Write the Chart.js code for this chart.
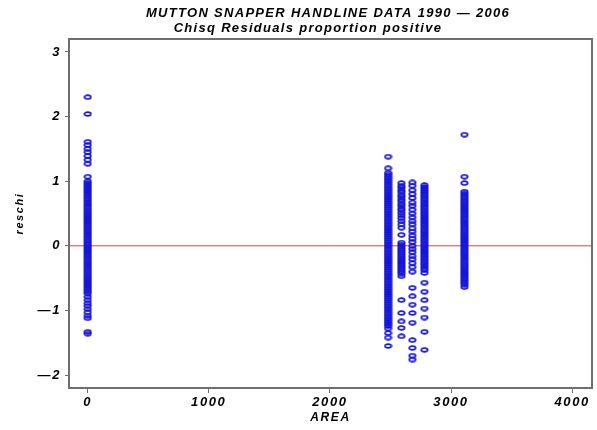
<!DOCTYPE html>
<html>
<head>
<meta charset="utf-8">
<script src="https://cdn.jsdelivr.net/npm/chart.js@4.4.0/dist/chart.umd.min.js"></script>
<style>
  html, body { margin: 0; padding: 0; background: #ffffff; }
  #wrap { width: 597px; height: 430px; position: relative; }
</style>
</head>
<body>
<div id="wrap"><canvas id="c" width="597" height="430"></canvas></div>
<script>
// ---- Data ----
const titleLines = ['MUTTON SNAPPER HANDLINE DATA 1990 \u2014 2006', 'Chisq Residuals proportion positive'];
const xTitle = 'AREA';
const yTitle = 'reschi';

const xTicks = [0, 1000, 2000, 3000, 4000];
const xTickLabels = ['0', '1000', '2000', '3000', '4000'];
const yTicks = [-2, -1, 0, 1, 2, 3];
const yTickLabels = ['\u20142', '\u20141', '0', '1', '2', '3'];
const xRange = [-154, 4164];
const yRange = [-2.2, 3.2];
const refLineY = 0;

// AREA codes (x positions of the point columns)
const areas = [0, 2480, 2590, 2680, 2780, 3110];

// Residuals per area
const resid0 = [2.30, 2.04, 1.61, 1.56, 1.50, 1.45, 1.39, 1.33, 1.27, 1.07, 1.00,
  0.97, 0.94, 0.91, 0.88, 0.85, 0.82, 0.79, 0.76, 0.73, 0.70, 0.67, 0.64, 0.61, 0.58,
  0.55, 0.52, 0.49, 0.46, 0.43, 0.40, 0.37, 0.34, 0.31, 0.28, 0.25, 0.22, 0.19, 0.16,
  0.13, 0.10, 0.07, 0.04, 0.01, -0.02, -0.05, -0.08, -0.11, -0.14, -0.17, -0.20, -0.23,
  -0.26, -0.29, -0.32, -0.35, -0.38, -0.41, -0.44, -0.47, -0.50, -0.53, -0.56, -0.59,
  -0.62, -0.65, -0.68, -0.71, -0.74, -0.79, -0.84, -0.89, -0.93, -0.98, -1.03, -1.08,
  -1.12, -1.33, -1.36];
const resid2480 = [1.38, 1.20, 1.13, 1.10, 1.07, 1.04, 1.01, 0.98, 0.95, 0.92, 0.89,
  0.86, 0.83, 0.80, 0.77, 0.74, 0.71, 0.68, 0.65, 0.62, 0.59, 0.56, 0.53, 0.50, 0.47,
  0.44, 0.41, 0.38, 0.35, 0.32, 0.29, 0.26, 0.23, 0.20, 0.17, 0.14, 0.11, 0.08, 0.05,
  0.02, -0.01, -0.04, -0.07, -0.10, -0.13, -0.16, -0.19, -0.22, -0.25, -0.28, -0.31,
  -0.34, -0.37, -0.40, -0.43, -0.46, -0.49, -0.52, -0.55, -0.58, -0.61, -0.64, -0.67,
  -0.70, -0.73, -0.76, -0.79, -0.82, -0.85, -0.88, -0.91, -0.94, -0.97, -1.00, -1.03,
  -1.06, -1.09, -1.12, -1.15, -1.18, -1.21, -1.24, -1.28, -1.35, -1.42, -1.55];
const resid2590 = [0.97, 0.93, 0.90, 0.86, 0.83, 0.79, 0.76, 0.72, 0.69, 0.65, 0.62,
  0.58, 0.55, 0.51, 0.47, 0.43, 0.38, 0.33, 0.28, 0.17, 0.05, 0.02, -0.01, -0.04,
  -0.07, -0.10, -0.13, -0.16, -0.19, -0.22, -0.25, -0.28, -0.31, -0.34, -0.37, -0.40,
  -0.43, -0.47, -0.84, -1.04, -1.17, -1.27, -1.40];
const resid2680 = [0.98, 0.93, 0.86, 0.80, 0.74, 0.67, 0.62, 0.56, 0.50, 0.44, 0.38, 0.33,
  0.27, 0.22, 0.16, 0.11, 0.06, 0.00, -0.05, -0.10, -0.16, -0.21, -0.27, -0.33, -0.40,
  -0.65, -0.78, -0.91, -1.04, -1.19, -1.46, -1.58, -1.70, -1.76];
const resid2780 = [0.94, 0.91, 0.88, 0.85, 0.82, 0.79, 0.76, 0.73, 0.70, 0.67, 0.64,
  0.61, 0.58, 0.55, 0.52, 0.49, 0.46, 0.43, 0.40, 0.37, 0.34, 0.31, 0.28, 0.25, 0.22,
  0.19, 0.16, 0.13, 0.10, 0.07, 0.04, 0.01, -0.02, -0.05, -0.08, -0.11, -0.14, -0.17,
  -0.20, -0.23, -0.26, -0.29, -0.32, -0.35, -0.38, -0.42, -0.57, -0.71, -0.84, -0.97,
  -1.11, -1.33, -1.61];
const resid3110 = [1.72, 1.07, 0.97, 0.84, 0.81, 0.78, 0.75, 0.72, 0.69, 0.66, 0.63,
  0.60, 0.57, 0.54, 0.51, 0.48, 0.45, 0.42, 0.39, 0.36, 0.33, 0.30, 0.27, 0.24, 0.21,
  0.18, 0.15, 0.12, 0.09, 0.06, 0.03, 0.00, -0.03, -0.06, -0.09, -0.12, -0.15, -0.18,
  -0.21, -0.24, -0.27, -0.30, -0.33, -0.36, -0.39, -0.42, -0.45, -0.48, -0.51, -0.54,
  -0.57, -0.60, -0.64];

const residByArea = [resid0, resid2480, resid2590, resid2680, resid2780, resid3110];

// ---- Build chart data ----
const points = [];
areas.forEach((a, i) => residByArea[i].forEach(r => points.push({ x: a, y: r })));

const FONT = '"Liberation Sans", Arial, sans-serif';

// marker: small flattened hollow ellipse (like the reference symbol)
const marker = document.createElement('canvas');
marker.width = 9; marker.height = 6;
(function () {
  const m = marker.getContext('2d');
  m.strokeStyle = 'rgb(20,20,215)';
  m.lineWidth = 1.7;
  m.beginPath();
  m.ellipse(4.5, 3, 3.2, 1.9, 0, 0, Math.PI * 2);
  m.stroke();
})();

const frameAndTitle = {
  id: 'frameAndTitle',
  beforeInit(chart) { chart.ctx.letterSpacing = '1.6px'; },
  beforeDraw(chart) { chart.ctx.letterSpacing = '1.6px'; },
  afterDraw(chart) {
    const { ctx, chartArea: ca } = chart;
    ctx.save();
    ctx.strokeStyle = '#6e6e6e';
    ctx.lineWidth = 2;
    ctx.strokeRect(ca.left, ca.top, ca.right - ca.left, ca.bottom - ca.top);
    ctx.fillStyle = '#000';
    ctx.textAlign = 'center';
    ctx.textBaseline = 'middle';
    ctx.font = 'italic bold 13px ' + FONT;
    ctx.letterSpacing = '1.3px';
    ctx.fillText(titleLines[0], 328, 13);
    ctx.fillText(titleLines[1], 308, 28);
    ctx.restore();
  }
};

new Chart(document.getElementById('c'), {
  type: 'scatter',
  data: {
    datasets: [
      {
        type: 'line',
        data: [{ x: xRange[0], y: refLineY }, { x: xRange[1], y: refLineY }],
        borderColor: 'rgb(205,70,70)',
        borderWidth: 1,
        pointRadius: 0,
        order: 2
      },
      {
        data: points,
        pointStyle: marker,
        pointRadius: 3,
        borderColor: 'rgb(20,20,215)',
        backgroundColor: 'rgba(0,0,0,0)',
        order: 1
      }
    ]
  },
  options: {
    responsive: false,
    animation: false,
    devicePixelRatio: 1,
    layout: { padding: { top: 39, right: 3, left: 0, bottom: 0 } },
    plugins: { legend: { display: false }, tooltip: { enabled: false }, title: { display: false } },
    scales: {
      x: {
        type: 'linear',
        min: xRange[0], max: xRange[1],
        afterFit(s) { s.height = 42; },
        afterBuildTicks(s) { s.ticks = xTicks.map(v => ({ value: v })); },
        grid: { drawOnChartArea: false, tickLength: 5, color: '#6e6e6e', tickWidth: 1 },
        border: { display: false },
        ticks: {
          color: '#000', padding: 2, maxRotation: 0, autoSkip: false,
          font: { family: FONT, size: 13, style: 'italic', weight: 'bold' },
          callback: (v) => xTickLabels[xTicks.indexOf(v)]
        },
        title: {
          display: true, text: xTitle, color: '#000',
          font: { family: FONT, size: 12, style: 'italic', weight: 'bold' },
          padding: { top: 0, bottom: 5 }
        }
      },
      y: {
        type: 'linear',
        min: yRange[0], max: yRange[1],
        afterFit(s) { s.width = 69; },
        afterBuildTicks(s) { s.ticks = yTicks.map(v => ({ value: v })); },
        grid: { drawOnChartArea: false, tickLength: 4, color: '#6e6e6e', tickWidth: 1 },
        border: { display: false },
        ticks: {
          color: '#000', padding: 4, autoSkip: false,
          font: { family: FONT, size: 13, style: 'italic', weight: 'bold' },
          callback: (v) => yTickLabels[yTicks.indexOf(v)]
        },
        title: {
          display: true, text: yTitle, color: '#000',
          font: { family: FONT, size: 11, style: 'italic', weight: 'bold' },
          padding: { top: 13, bottom: 0 }
        }
      }
    }
  },
  plugins: [frameAndTitle]
});
</script>
</body>
</html>
